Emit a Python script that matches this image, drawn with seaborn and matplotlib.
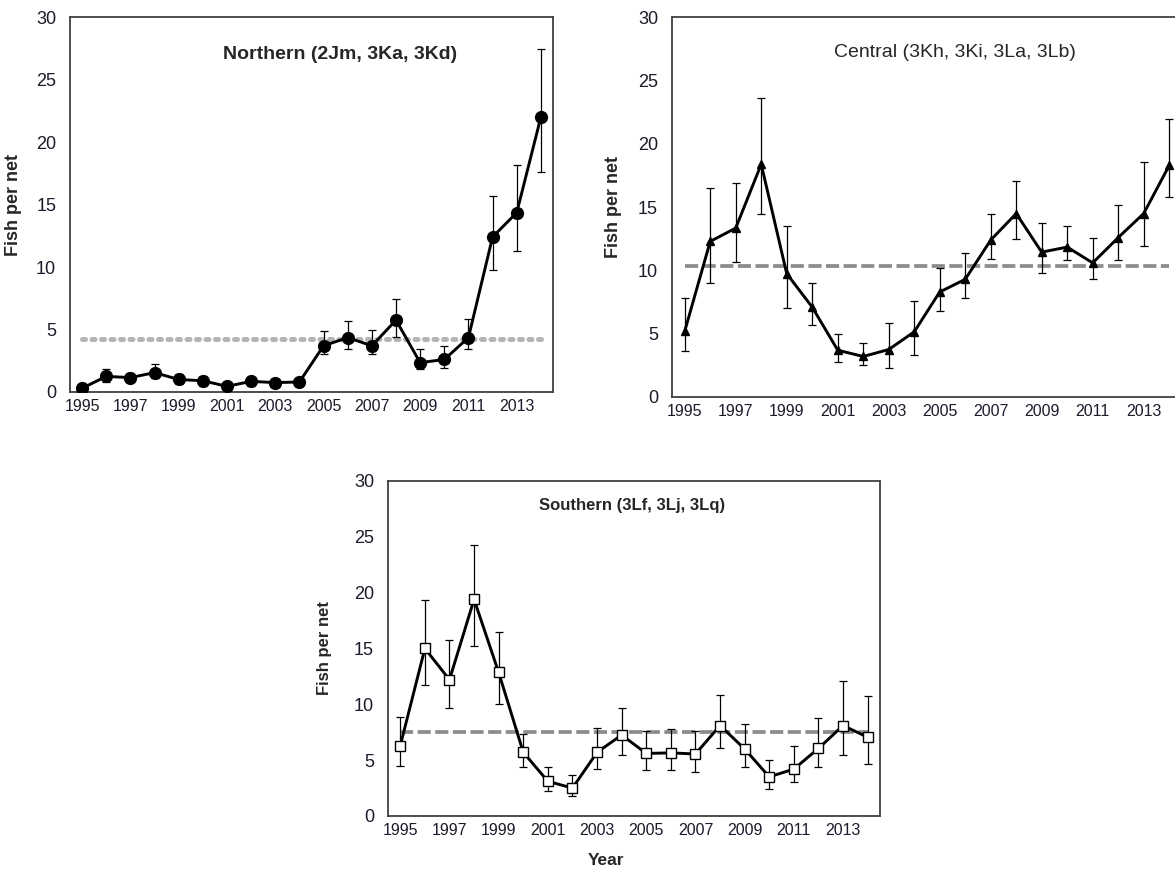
import numpy as np
import matplotlib
matplotlib.use("Agg")
import matplotlib.pyplot as plt
import pandas as pd
import seaborn as sns

years = list(range(1995, 2015))
year_labels = [str(y) for y in range(1995, 2014, 2)]

north_mean = [0.3, 1.25, 1.15, 1.55, 1.0, 0.9, 0.45, 0.85, 0.75, 0.8,
              3.7, 4.35, 3.7, 5.75, 2.35, 2.6, 4.35, 12.4, 14.35, 22.0]
north_hi = [0.6, 1.8, 1.5, 2.2, 1.4, 1.3, 0.7, 1.1, 1.0, 1.1,
            4.85, 5.65, 4.95, 7.45, 3.4, 3.65, 5.8, 15.65, 18.2, 27.45]
north_lo = [0.1, 0.8, 0.8, 1.1, 0.6, 0.5, 0.2, 0.5, 0.5, 0.5,
            3.0, 3.4, 3.0, 4.4, 1.8, 1.9, 3.4, 9.8, 11.3, 17.6]
north_avg = 4.25

central_mean = [5.2, 12.3, 13.35, 18.4, 9.75, 7.1, 3.7, 3.2, 3.75, 5.15,
                8.3, 9.3, 12.4, 14.5, 11.45, 11.85, 10.6, 12.6, 14.5, 18.3]
central_hi = [7.85, 16.5, 16.9, 23.6, 13.55, 9.0, 5.0, 4.3, 5.85, 7.6,
              10.2, 11.4, 14.5, 17.1, 13.75, 13.55, 12.6, 15.2, 18.55, 22.0]
central_lo = [3.6, 9.0, 10.65, 14.5, 7.0, 5.7, 2.75, 2.5, 2.3, 3.35,
              6.8, 7.85, 10.9, 12.5, 9.8, 10.8, 9.3, 10.85, 11.9, 15.8]
central_avg = 10.35

south_mean = [6.3, 15.0, 12.2, 19.4, 12.85, 5.7, 3.1, 2.5, 5.7, 7.25,
              5.6, 5.65, 5.55, 8.1, 6.0, 3.5, 4.2, 6.05, 8.1, 7.05]
south_hi = [8.85, 19.35, 15.75, 24.3, 16.45, 7.3, 4.35, 3.65, 7.9, 9.7,
            7.65, 7.75, 7.6, 10.8, 8.2, 5.05, 6.3, 8.75, 12.1, 10.7]
south_lo = [4.5, 11.7, 9.7, 15.2, 10.0, 4.35, 2.2, 1.8, 4.25, 5.45,
            4.1, 4.1, 3.95, 6.05, 4.35, 2.4, 3.0, 4.35, 5.45, 4.65]
south_avg = 7.5

sns.set_style("white")
plt.rcParams['font.family'] = ['Liberation Sans', 'DejaVu Sans']

fig = plt.figure(figsize=(11.75, 8.74), dpi=100)
ax_n = fig.add_axes([0.0596, 0.5515, 0.411, 0.429])
ax_c = fig.add_axes([0.5719, 0.5458, 0.434, 0.4342])
ax_s = fig.add_axes([0.3302, 0.0664, 0.4187, 0.3833])


def draw_panel(ax, mean, hi, lo, avg, marker, mfc, ms, avg_color, avg_dash, avg_lw,
               avg_cap, title, title_xy, title_weight, title_size, ylab_x, ylab_size):
    df = pd.DataFrame({'Year': years, 'Fish': mean})
    err = [np.array(mean) - np.array(lo), np.array(hi) - np.array(mean)]
    # average line first, so the series sits on top
    ax.plot([years[0], years[-1]], [avg, avg], color=avg_color, lw=avg_lw,
            dashes=avg_dash, dash_capstyle=avg_cap, zorder=1)
    ax.errorbar(years, mean, yerr=err, fmt='none', ecolor='black', elinewidth=0.9,
                capsize=3.2, capthick=0.9, zorder=2)
    sns.lineplot(data=df, x='Year', y='Fish', ax=ax, color='black', lw=2.1,
                 marker=marker, markersize=ms, markerfacecolor=mfc,
                 markeredgecolor='black', markeredgewidth=1.0, zorder=3)

    ax.set_xlim(1994.5, 2014.5)
    ax.set_ylim(0, 30)
    ax.set_yticks(range(0, 31, 5))
    ax.set_xticks(range(1995, 2014, 2))
    ax.set_xticklabels(year_labels, fontsize=11.5, color='#1b1b2b')
    ax.set_xticks(np.arange(1995.5, 2014.6, 1), minor=True)
    ax.tick_params(axis='x', which='major', length=0, pad=5)
    ax.tick_params(axis='x', which='minor', length=5, width=1.1, color='#303030', direction='out')
    ax.tick_params(axis='y', length=6, width=1.1, color='#303030', direction='out',
                   labelsize=13, labelcolor='#1b1b2b', pad=4)
    for s in ax.spines.values():
        s.set_color('#404040')
        s.set_linewidth(1.3)
    ax.set_xlabel('')
    ax.set_ylabel('Fish per net', fontsize=ylab_size, fontweight='bold')
    ax.yaxis.set_label_coords(ylab_x, 0.5)
    ax.text(title_xy[0], title_xy[1], title, transform=ax.transAxes, ha='center',
            va='center', fontsize=title_size, fontweight=title_weight)


draw_panel(ax_n, north_mean, north_hi, north_lo, north_avg, 'o', 'black', 8.5,
           '#b4b4b4', (0.6, 1.3), 3.6, 'round', 'Northern (2Jm, 3Ka, 3Kd)', (0.559, 0.899),
           'bold', 14, -0.099, 13)
draw_panel(ax_c, central_mean, central_hi, central_lo, central_avg, '^', 'black', 6,
           '#8c8c8c', (3.5, 1.2), 2.7, 'butt', 'Central (3Kh, 3Ki, 3La, 3Lb)', (0.555, 0.909),
           'normal', 14, -0.098, 13)
draw_panel(ax_s, south_mean, south_hi, south_lo, south_avg, 's', 'white', 7,
           '#8c8c8c', (3.5, 1.2), 2.7, 'butt', 'Southern (3Lf, 3Lj, 3Lq)', (0.496, 0.928),
           'bold', 12, -0.114, 12)

ax_s.set_xlabel('Year', fontsize=12.5, fontweight='bold')
ax_s.xaxis.set_label_coords(0.443, -0.112)

fig.savefig('out.png', dpi=100)
